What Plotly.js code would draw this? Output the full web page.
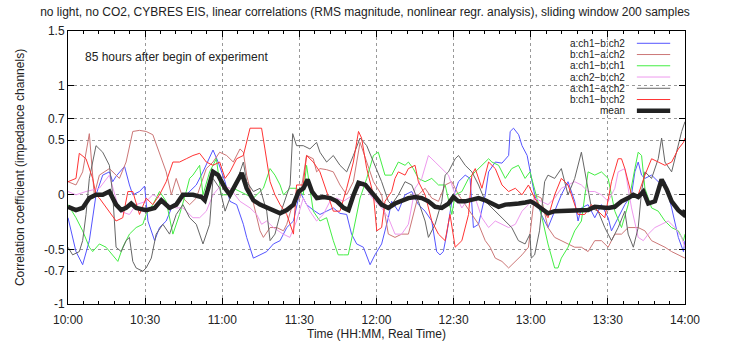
<!DOCTYPE html>
<html>
<head>
<meta charset="utf-8">
<script src="https://cdn.plot.ly/plotly-3.0.1.min.js"></script>
<style>html,body{margin:0;padding:0;background:#fff;}#chart{width:730px;height:343px;}</style>
</head>
<body>
<div id="chart"></div>
<script>
// minutes after 10:00
const xTickVals = [0, 30, 60, 90, 120, 150, 180, 210, 240];
const xTickLabels = ["10:00", "10:30", "11:00", "11:30", "12:00", "12:30", "13:00", "13:30", "14:00"];
const yTickVals = [1.5, 1, 0.7, 0.5, 0, -0.5, -0.7, -1];
const yTickLabels = ["1.5", "1", "0.7", "0.5", "0", "-0.5", "-0.7", "-1"];
const seriesNames = ["a:ch1\u2212b:ch2", "b:ch1\u2212a:ch2", "a:ch1\u2212b:ch1", "a:ch2\u2212b:ch2", "a:ch1\u2212a:ch2", "b:ch1\u2212b:ch2", "mean"];
const seriesColors = ["#5555ff", "#cc7777", "#44ee44", "#ee99ee", "#666666", "#ff3333", "#222222"];

const tBlue = [0,3.1,5.7,8.3,10.9,13.5,16.1,17.4,18.7,22,23.9,25.2,27.8,29.8,31.1,33.7,35.6,38.2,40.8,43.4,46,49.9,52.5,56.4,58.4,
  61.1,63,65.6,68.2,69.5,72.1,74.7,77.3,79.9,82.5,85.1,87.7,90.2,92.8,95.4,98,100.6,103.2,105.8,108.4,110.3,112.3,114.9,117.5,119.4,
  122,124.6,125.9,128.5,131.1,133.7,136.3,138.9,141.5,143.4,144.7,146,147.3,149.3,151.9,154.5,156.4,157.7,159.7,162.3,163.6,166.2,168.8,171.4,172,173.3,175.3,176.6,178.6,
  181.5,184.1,186.7,189.3,191.9,194.5,197.1,198.4,199.7,202.3,204.9,207.5,210.1,211.4,214,216.6,219.2,220.5,221.8,223.1,224.4,227,229.6,232.2,234.8,237.4,239.4,240];
const vBlue = [-0.21,-0.52,-0.64,-0.42,0,0.18,0.21,0.12,0.17,0.26,0.09,0,0.03,0.08,-0.24,-0.42,-0.3,-0.24,-0.09,-0.06,0,0.09,0.21,0.41,0.3,
  0.12,-0.06,-0.09,-0.27,-0.39,-0.58,-0.55,-0.52,-0.45,-0.42,-0.3,-0.24,0.03,-0.09,-0.14,-0.18,-0.15,-0.12,-0.17,-0.18,-0.36,-0.45,-0.48,-0.64,-0.55,
  -0.45,-0.21,-0.06,-0.15,0,0.03,-0.09,-0.15,-0.24,-0.52,-0.55,-0.52,-0.36,-0.06,0.12,0.18,0.15,-0.3,-0.27,0,0.21,0.3,0.29,0.36,0.58,0.61,0.55,0.45,0.36,
  0,-0.18,-0.3,-0.15,0,0.12,-0.06,-0.24,-0.12,-0.09,-0.21,-0.09,-0.21,-0.33,-0.21,-0.09,0,0.21,0.3,0.18,0.15,0.18,0.12,0.12,-0.12,-0.39,-0.52,-0.42];

const tBrown = [0,3.1,5.7,8.3,10.2,12.2,16.1,20,22.6,25.2,27.8,30.4,33,36.9,38.2,40.2,42.1,44.7,47.3,49.9,53.8,56.4,59,
  61.7,64.3,66.9,68.2,69.5,72.1,74.7,76,78.6,81.2,83.8,85.1,87.7,90.2,92.8,95.4,96.7,98,100.6,103.2,105.8,108.4,111,113.6,116.2,118.8,
  122,124.6,127.2,129.8,132.4,133.7,136.3,138.9,141.5,144.1,146.7,149.3,151.9,154.5,157.1,159.7,162.3,164.2,166.2,168.8,171.4,174,176.6,179.1,
  181.5,184.1,186.7,189.3,191.9,194.5,197.1,199.7,202.3,204.9,207.5,210.1,212.7,215.3,217.9,221.8,224.4,227,229.6,232.2,234.8,237.4,240];
const vBrown = [0.12,0.09,0.21,0.56,0,0.18,0.24,0.15,0.3,0.58,0.59,0.58,0.55,0.3,0.21,0,0.15,-0.03,-0.09,-0.03,0.24,0.3,0.39,
  0.36,0.3,0.42,0.39,0.18,-0.09,-0.33,-0.39,-0.3,-0.3,-0.33,-0.27,-0.06,-0.03,0.36,0.33,0.21,0.24,0.23,0.21,0.09,0,0.12,0.48,0.3,0.12,
  0,-0.36,-0.39,-0.36,-0.36,-0.24,0,0.06,-0.03,-0.06,0.09,0.12,0,-0.09,-0.18,-0.27,-0.42,-0.48,-0.58,-0.61,-0.67,-0.61,-0.55,-0.48,
  0,-0.03,-0.3,-0.39,-0.42,-0.45,-0.48,-0.48,-0.52,-0.42,-0.42,-0.48,-0.36,-0.36,-0.3,-0.3,-0.33,-0.42,-0.45,-0.48,-0.52,-0.55,-0.58];

const tGreen = [0,3.1,5.7,8.3,9.6,12.2,14.8,17.4,19.4,21.3,23.9,26.5,29.1,30.4,33,35.6,38.2,40.8,43.4,46,47.3,48.6,51.2,52.5,55.1,57.7,59.6,
  61.7,64.3,66.9,69.5,72.1,76,78.6,80.5,82.5,83.8,86.4,88.9,91.5,92.8,95.4,98,100.6,103.2,105.1,107.1,109,111,113.6,116.2,118.8,
  120.7,123.3,125.9,128.5,131.1,132.4,134.3,136.3,138.9,141.5,144.1,146.7,149.3,150.6,153.2,155.8,158.4,161,163.6,164.9,167.5,170.1,172.6,175.2,177.8,179.7,
  181.5,184.1,186.7,189.3,190.6,191.9,194.5,197.1,199.7,202.3,204.9,207.5,210.1,212.7,215.3,217.9,220.5,221.8,223.1,224.4,227,229.6,232.2,234.8,237.4,239.4,240];
const vGreen = [-0.09,-0.21,-0.33,-0.48,-0.52,-0.45,-0.48,-0.55,-0.61,-0.48,-0.36,-0.3,-0.27,-0.18,-0.09,0.03,-0.06,-0.36,-0.18,0.03,0.15,0.18,0.27,0,0.21,0.33,0,
  0,0.06,0.03,0,-0.03,0.06,0.24,0.18,0.09,0,0.06,0.06,0,0.27,-0.15,-0.24,-0.21,-0.42,-0.55,-0.55,-0.55,-0.33,-0.03,0.15,0.36,
  0.39,0.18,0.18,0.3,0.27,0.3,0.24,0.15,0.12,0.15,0.09,0.09,-0.18,0,0.03,0.15,0.21,0.27,0.33,0.3,0.27,0.15,0.24,0.27,0.15,0.21,
  0.06,-0.18,-0.45,-0.67,-0.67,-0.58,-0.48,-0.33,-0.24,0.21,0.18,0.21,0.15,-0.15,-0.3,-0.09,0.24,0.39,0.36,0.06,-0.12,-0.15,-0.24,-0.3,-0.33,-0.42,-0.36];

const tViolet = [0,3.1,7,12.2,16.1,20,23.9,26.5,30.4,33,35.6,38.2,42.1,44.7,48.6,51.2,53.8,56.4,59.6,
  63,66.9,70.8,73.4,75.3,77.3,79.9,83.7,86.3,88.9,91.5,94.1,96.7,99.3,101.9,104.5,107.1,111,114.9,117.5,119.4,
  122,124.6,127.2,129.8,132.4,135,137.6,140.2,142.8,145.4,148,150.6,153.2,155.8,158.4,161,163.6,166.2,168.8,171.4,174,176.6,179.1,
  181.5,184.1,186.7,189.3,191.9,194.5,197.1,199.7,202.3,204.9,207.5,210.1,212.7,214,216.6,219.2,221.8,223.8,225.7,228.3,230.9,233.5,236.1,238.7,240];
const vViolet = [0.03,0,0.03,0.06,0.18,-0.15,-0.18,-0.09,-0.06,0,-0.03,-0.09,-0.12,-0.12,-0.21,-0.21,-0.15,0,0.09,
  0.06,-0.06,-0.12,-0.18,-0.27,-0.24,-0.3,-0.36,-0.39,-0.24,-0.03,-0.15,-0.24,-0.18,-0.06,-0.03,-0.06,0,0.12,0,-0.06,
  -0.12,-0.21,-0.36,-0.36,-0.27,0.06,0.15,0.36,0.3,0.24,0.18,0,-0.12,-0.03,-0.03,-0.21,-0.3,-0.24,-0.27,-0.3,-0.27,-0.15,-0.09,
  -0.03,-0.06,-0.09,-0.03,0.06,0.09,0.12,0.09,0.03,0.03,0,-0.06,0.06,0.21,0.24,-0.12,-0.39,-0.42,-0.36,-0.3,-0.27,-0.24,-0.3,-0.39,-0.48];

const tGray = [0,1.8,4.4,5.7,7,8.3,9.6,10.9,13.5,16.1,17.4,18.7,20.7,22.6,23.9,25.2,26.5,29.1,30.4,32.4,34.3,36.9,39.5,42.1,44.7,47.3,49.9,52.5,55.1,56.4,59,
  61.1,63,65.6,66.9,68.2,69.5,72.1,74.7,77.3,78.6,80.5,82.5,85.1,86.4,87.4,88.9,91.5,94.1,96.7,98,100.6,103.2,105.8,108.4,111,113.6,116.2,118.8,
  122,124.6,125.9,128.5,131.1,133.7,136.3,138.9,140.2,142.8,145.4,146.7,148,150.6,151.9,154.5,157.1,159.7,162.3,164.9,167.5,170.1,172.6,175.2,177.8,179.7,
  180.2,181.5,183.4,185.4,186.7,189.3,191.9,194.5,197.1,199.7,201.6,203.6,206.2,208.8,211.4,214,216.6,217.9,219.9,221.8,223.1,224.4,227,229.6,230.9,232.2,234.8,236.7,238.7,240];
const vGray = [-0.48,-0.55,-0.52,-0.42,-0.18,0.15,0.3,0.45,0.39,0.27,0,-0.48,-0.52,-0.42,-0.39,-0.61,-0.67,-0.7,-0.67,-0.58,-0.36,-0.27,-0.36,-0.18,-0.09,-0.21,-0.27,-0.45,-0.27,0.15,0.06,
  -0.15,-0.03,0.09,0.21,0.3,0.12,0.03,0.06,-0.15,-0.42,-0.36,-0.18,0,0.09,0.56,0.45,0.45,0.42,0.48,0.39,0.3,0.36,0.27,0.21,0.36,0.52,0.45,0.3,
  0.12,-0.06,-0.09,0,0.12,0.09,-0.06,-0.24,-0.39,-0.27,-0.06,0.18,0.21,0.33,0.36,0.27,0.21,0.09,-0.06,-0.12,-0.18,-0.24,-0.3,-0.42,-0.45,-0.36,
  -0.58,-0.55,-0.33,0.12,0.18,0.15,0.24,0,0.15,0.39,0.15,-0.12,-0.15,-0.3,-0.42,-0.3,-0.15,-0.36,-0.48,-0.3,0.03,0.21,0.15,0.33,0.52,0.3,0.21,0.39,0.58,0.67];

const tRed = [0,3.1,4.4,7,9.6,10.9,12.2,16.1,18.7,21.3,23.3,25.2,27.8,30.4,33,35.6,38.2,40.8,43.4,46,48.6,51.2,53.8,56.4,59,
  61.1,63,65.6,68.2,70.8,73.4,75.3,76.6,78.6,80.5,82.5,85.1,87.7,88.9,91.5,92.8,95.4,98,100.6,103.2,105.8,108.4,111,113,114.2,116.2,118.8,120.1,
  122,123.3,125.9,127.2,128.5,131.1,132.4,135,136.3,138.9,141.5,144.1,146.7,148.6,150.6,153.2,155.8,157.1,158.4,161,163.6,166.2,168.8,171.4,174,176.6,179.1,
  181.5,184.1,186.7,189.3,191.9,194.5,197.1,198.4,201,203.6,206.2,208.8,211.4,214,215.3,216.6,219.2,221.8,224.4,227,229.6,232.2,234.8,237.4,239.4,240];
const vRed = [0.12,0.15,0.38,0.33,0.15,0,-0.03,-0.15,-0.24,-0.21,0.03,0.03,-0.18,-0.03,-0.09,0,0.12,0.3,0.3,0.33,0.36,0.38,0.3,0.27,0.3,
  0.15,0.21,0.33,0.36,0.61,0.61,0.61,0.42,0.12,0,-0.09,-0.18,-0.36,0.09,0.09,0.36,0.3,0.21,0.03,-0.15,-0.15,0.06,0.3,0.58,0.52,0.24,0,-0.33,
  -0.3,-0.06,0.03,0.15,0.21,0.18,0.24,0.27,0.12,0,-0.24,-0.36,-0.42,-0.18,-0.48,-0.42,-0.18,0.18,0.24,0.06,0.3,0.24,0.09,0.03,0.06,0,0.09,
  -0.03,-0.12,-0.21,0,0.15,0.09,-0.09,-0.18,-0.18,-0.09,-0.15,-0.21,0.12,0.33,0.33,0.24,0,0,0.18,0.33,0.3,0.27,0.3,0.42,0.48,0.52];

const tMean = [0,3.1,5.7,8.3,10.9,13.5,16.1,18.7,20.7,22.6,24.6,26.5,30.4,33.7,36.3,39.5,42.1,44.7,48.6,51.9,53.2,56.4,58.4,
  61.1,63,65,67.6,69.5,72.1,74.7,77.3,79.9,82.5,85.1,87.7,89.7,91.6,93.2,94.9,96.8,99.4,102,104.6,107.2,109.1,111.1,113,115.7,117.6,119.6,
  122,124.6,127.2,129.8,132.4,135,137.6,140.2,142.8,145.4,148,149.9,151.9,154.5,157.1,159.7,162.3,164.9,167.5,170.1,172.7,175.3,177.9,
  179.9,181.5,184.1,186.7,189.3,191.9,194.5,197.1,199.7,202.3,204.9,207.5,210.1,212.7,215.3,217.9,219.9,221.8,223.8,225.7,228.3,230.9,232.9,234.8,237.4,239.4,240];
const vMean = [-0.11,-0.14,-0.12,-0.03,0,0,0.03,-0.09,-0.14,-0.12,-0.08,-0.12,-0.14,-0.12,-0.05,-0.12,-0.09,0,0,-0.02,-0.05,0.21,0.18,
  0.06,0,0.09,0.2,0.06,-0.05,-0.09,-0.12,-0.15,-0.17,-0.14,-0.09,0.03,0.06,0.14,0.03,-0.03,-0.02,-0.03,-0.06,-0.12,-0.14,0,0.11,0.09,0.03,-0.02,
  -0.09,-0.12,-0.08,-0.05,-0.03,-0.02,-0.03,-0.06,-0.11,-0.12,-0.08,-0.02,-0.06,-0.06,-0.05,-0.03,-0.05,-0.08,-0.11,-0.09,-0.09,-0.08,-0.07,
  -0.06,-0.08,-0.12,-0.17,-0.15,-0.15,-0.14,-0.14,-0.15,-0.14,-0.11,-0.12,-0.12,-0.11,-0.06,-0.03,0,-0.02,0.03,-0.08,-0.06,0.14,0.05,-0.06,-0.14,-0.18,-0.14];

const seriesT = [tBlue, tBrown, tGreen, tViolet, tGray, tRed, tMean];
const seriesV = [vBlue, vBrown, vGreen, vViolet, vGray, vRed, vMean];

const FONT = "'Liberation Sans', Arial, Helvetica, sans-serif";
const traces = seriesT.map((t, i) => ({
  x: t, y: seriesV[i], type: 'scatter', mode: 'lines', name: seriesNames[i],
  line: {color: seriesColors[i], width: i === 6 ? 4.5 : 1},
  hoverinfo: 'skip', showlegend: false
}));

// manual gnuplot-style legend (text left, sample right)
const shapes = [{type: 'rect', xref: 'paper', yref: 'paper', x0: 0.775, x1: 0.997, y0: 0.69, y1: 0.99,
  fillcolor: '#ffffff', line: {width: 0}, layer: 'between'}];
const annotations = [{xref: 'paper', yref: 'paper', x: 0.024, y: 0.905, xanchor: 'left', yanchor: 'middle',
  text: '85 hours after begin of experiment', showarrow: false, font: {family: FONT, size: 12, color: '#222'}}];
seriesNames.forEach((nm, i) => {
  const yy = 0.955 - i * 0.0412;
  annotations.push({xref: 'paper', yref: 'paper', x: 0.905, y: yy, xanchor: 'right', yanchor: 'middle',
    text: nm, showarrow: false, borderpad: 0, font: {family: FONT, size: 10, color: '#222'}});
  shapes.push({type: 'line', xref: 'paper', yref: 'paper', x0: 0.922, x1: 0.976, y0: yy, y1: yy,
    line: {color: seriesColors[i], width: i === 6 ? 4.5 : 1}, layer: 'above'});
});

const layout = {
  width: 730, height: 343,
  margin: {l: 68, r: 45, t: 31, b: 39, pad: 0},
  paper_bgcolor: '#fff', plot_bgcolor: '#fff',
  font: {family: FONT, size: 12, color: '#222'},
  title: {text: 'no light, no CO2, CYBRES EIS, linear correlations (RMS magnitude, nonlinear regr. analysis), sliding window 200 samples',
    x: 0.5, xref: 'container', xanchor: 'center', y: 1 - 12 / 343, yref: 'container', yanchor: 'middle',
    font: {family: FONT, size: 12, color: '#222'}},
  xaxis: {range: [0, 240], tickvals: xTickVals, ticktext: xTickLabels, showline: true, linecolor: '#000', linewidth: 1,
    mirror: 'allticks', ticks: 'inside', ticklen: 6, tickcolor: '#000', showgrid: true, gridcolor: '#999', griddash: 'dot', gridwidth: 1,
    zeroline: false, tickfont: {family: FONT, size: 12, color: '#222'}, ticklabelstandoff: 5,
    minor: {dtick: 6, tick0: 0, ticks: 'inside', ticklen: 3, tickcolor: '#000', showgrid: false},
    title: {text: 'Time (HH:MM, Real Time)', standoff: 0, font: {family: FONT, size: 12, color: '#222'}}},
  yaxis: {range: [-1, 1.5], tickvals: yTickVals, ticktext: yTickLabels, showline: true, linecolor: '#000', linewidth: 1,
    mirror: 'allticks', ticks: 'inside', ticklen: 6, tickcolor: '#000', showgrid: true, gridcolor: '#999', griddash: 'dot', gridwidth: 1,
    zeroline: false, tickfont: {family: FONT, size: 12, color: '#222'},
    title: {text: 'Correlation coefficient (impedance channels)', standoff: 16, font: {family: FONT, size: 12, color: '#222'}}},
  shapes: shapes, annotations: annotations, showlegend: false
};

Plotly.newPlot('chart', traces, layout, {staticPlot: true, displayModeBar: false});
</script>
</body>
</html>
